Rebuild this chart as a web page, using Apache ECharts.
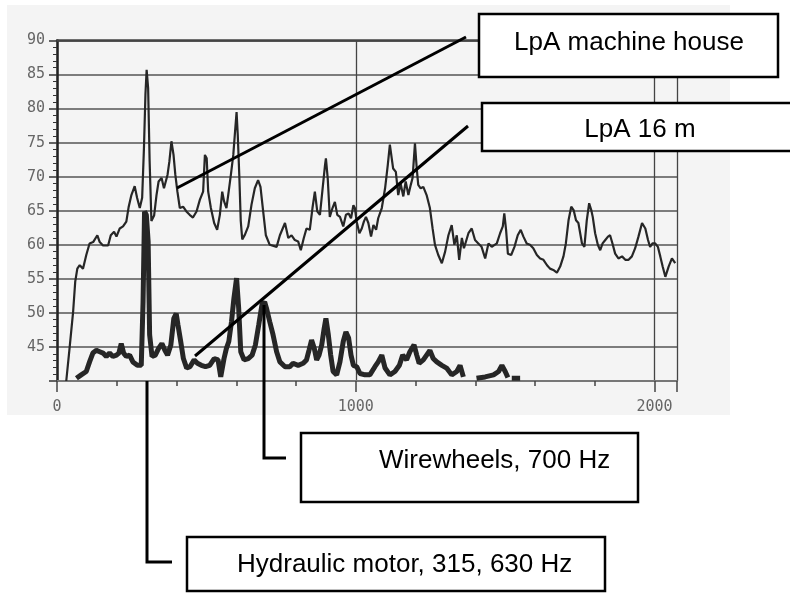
<!DOCTYPE html>
<html>
<head>
<meta charset="utf-8">
<script src="https://cdn.jsdelivr.net/npm/echarts@6/dist/echarts.min.js"></script>
<style>
  html, body { margin: 0; padding: 0; background: #fff; }
  #chart { width: 790px; height: 593px; }
</style>
</head>
<body>
<div id="chart"></div>
<script>
// [frequency Hz, level dB(A)]
const machineHouse = [
  [31, 40], [35, 40.2], [42, 44.8], [54, 50.2], [61, 54.6], [68, 56.5], [76, 57], [87, 56.5],
  [98, 58.5], [109, 60.2], [121, 60.4], [135, 61.4], [143, 60.4], [154, 59.9], [171, 59.9],
  [180, 61.4], [191, 61.9], [199, 61.2], [210, 62.4], [221, 62.7], [232, 63.4], [240, 65.6],
  [249, 67.3], [260, 68.6], [268, 66.9], [277, 65.4], [285, 66.9], [291, 74.2], [296, 82.1],
  [300, 85.7], [305, 83], [310, 72.3], [316, 63.5], [325, 64.3], [333, 67.3], [340, 69.3],
  [350, 69.8], [358, 68.3], [370, 70.3], [376, 72.2], [383, 75.2], [390, 73.2], [396, 70.3],
  [403, 67.8], [411, 65.4], [422, 65.6], [433, 64.9], [444, 64.4], [455, 64], [467, 64.9],
  [478, 66.6], [489, 67.8], [495, 73.2], [501, 72.7], [506, 67.8], [515, 65.4], [526, 63.2],
  [536, 62.2], [545, 64.4], [553, 67.8], [559, 66.4], [567, 65.4], [573, 67.3], [582, 70.3],
  [590, 73.2], [595, 76.1], [601, 79.5], [605, 76.1], [610, 70.3], [615, 63.5], [620, 60.8],
  [629, 61.5], [640, 62.7], [651, 65.9], [662, 68.3], [673, 69.5], [681, 68.5], [690, 64.9],
  [699, 61.4], [712, 60], [735, 59.7], [746, 61.4], [763, 63.2], [774, 61], [785, 61.4],
  [796, 60.7], [807, 60.5], [816, 59.2], [826, 61], [835, 62.4], [846, 62.2], [855, 65.4],
  [863, 67.8], [871, 64.9], [880, 64.4], [889, 68.3], [897, 71.7], [900, 72.7], [906, 69.8],
  [913, 64.1], [922, 65.4], [930, 66.3], [938, 64.4], [947, 64.1], [958, 62.7], [967, 64.4],
  [976, 64.6], [984, 63.9], [992, 65.8], [997, 65.4], [1003, 63.4], [1012, 61.7], [1020, 62.4],
  [1027, 63.4], [1034, 64.1], [1042, 63.2], [1051, 61.2], [1059, 62.9], [1068, 62.2],
  [1075, 63.9], [1087, 65.4], [1098, 68.3], [1107, 71.7], [1114, 74.7], [1120, 74.7],
  [1125, 71.2], [1134, 70.7], [1142, 67.3], [1150, 69], [1159, 67.1], [1167, 69.3], [1176, 67.3],
  [1184, 68.8], [1190, 69.8], [1198, 74.9], [1204, 71.2], [1209, 68.8], [1217, 68.3],
  [1226, 68.5], [1237, 67.3], [1248, 65.4], [1257, 62.4], [1265, 60], [1276, 58.5], [1288, 57.3],
  [1299, 59], [1310, 61.4], [1321, 62.9], [1330, 60], [1338, 61.4], [1346, 57.8], [1355, 61],
  [1362, 59.5], [1377, 61.7], [1388, 62.4], [1399, 60.7], [1410, 60.2], [1421, 59.7],
  [1433, 58], [1444, 60.2], [1455, 59.7], [1472, 60.2], [1483, 61.7], [1492, 62.7],
  [1497, 64.6], [1503, 62.2], [1509, 58.7], [1520, 58.5], [1531, 59.7], [1542, 61.4],
  [1552, 62.2], [1561, 61.2], [1572, 60.2], [1583, 60], [1594, 59.5], [1606, 58.5], [1617, 58],
  [1628, 57.8], [1640, 57], [1650, 56.5], [1661, 56.3], [1673, 55.9], [1684, 56.8], [1695, 58.3],
  [1703, 60.2], [1712, 63.6], [1721, 65.6], [1729, 65.1], [1737, 63.6], [1745, 63.2],
  [1757, 60.2], [1765, 59.7], [1773, 63.6], [1781, 66.1], [1788, 65.1], [1793, 64.1],
  [1801, 61.7], [1810, 60], [1818, 59.2], [1826, 60.2], [1835, 60.7], [1844, 61.2], [1851, 61.4],
  [1859, 60.2], [1868, 58.7], [1879, 58], [1891, 58.3], [1902, 57.8], [1913, 57.8], [1924, 58.3],
  [1935, 59.5], [1946, 61.2], [1958, 63.2], [1969, 62.4], [1978, 60.7], [1985, 59.7],
  [1993, 60.2], [2002, 60.2], [2011, 59.7], [2019, 58.3], [2027, 56.8], [2036, 55.3],
  [2047, 56.8], [2058, 58], [2069, 57.3]
]

const at16m = [
  [65, 40.4], [81, 40.9], [98, 41.4], [109, 42.8], [120, 44.1], [132, 44.5], [143, 44.3],
  [154, 44.1], [165, 43.6], [176, 44.1], [187, 43.6], [199, 43.8], [207, 44.1], [215, 45.5],
  [223, 44.1], [232, 43.6], [243, 43.8], [254, 42.8], [269, 42.3], [282, 42.3], [288, 51.6],
  [293, 64.9], [299, 64.4], [305, 60.5], [310, 46.8], [318, 43.6], [329, 43.8], [340, 44.8],
  [351, 45.5], [361, 44.5], [370, 43.8], [381, 45.3], [391, 49.2], [399, 49.9], [405, 48.2],
  [414, 45.8], [423, 43.3], [434, 41.9], [445, 42.1], [459, 43.1], [470, 42.6], [483, 42.3],
  [497, 42.1], [511, 42.3], [526, 43.3], [539, 43.1], [548, 40.6], [559, 43.3], [567, 44.8],
  [575, 45.8], [584, 48.7], [592, 52.1], [601, 55.1], [608, 50.7], [615, 44.3], [626, 43.1],
  [640, 43.3], [653, 43.8], [664, 45.3], [675, 48.2], [686, 51.2], [695, 51.6], [701, 50.7],
  [712, 48.7], [723, 46.8], [735, 44.3], [746, 42.8], [763, 42.1], [779, 42.1], [790, 42.6],
  [807, 42.3], [824, 42.6], [835, 43.1], [844, 44.6], [852, 46], [861, 44.8], [869, 43.1],
  [877, 43.8], [886, 45.3], [894, 47.7], [900, 49.2], [908, 46.8], [916, 43.8], [924, 41.4],
  [936, 40.9], [947, 42.8], [958, 45.8], [967, 47.2], [976, 46.3], [984, 43.8], [992, 42.3],
  [1003, 42.1], [1014, 41.1], [1031, 40.9], [1047, 40.9], [1064, 42.1], [1075, 42.8],
  [1087, 43.8], [1098, 41.9], [1114, 40.9], [1131, 41.4], [1146, 42.3], [1157, 43.8],
  [1170, 43.1], [1181, 44.3], [1195, 45.3], [1204, 43.8], [1212, 42.6], [1226, 43.1],
  [1237, 43.8], [1248, 44.5], [1259, 43.3], [1271, 42.8], [1288, 42.3], [1304, 41.9],
  [1321, 40.9], [1338, 41.4], [1349, 42.3], [1360, 40.6], [1380, null],
  [1404, 40.4], [1433, 40.6], [1461, 40.9], [1478, 41.4], [1489, 42.3], [1500, 41.4],
  [1509, 40.5], [1516, null], [1522, 40.4], [1550, 40.4]
]

const yTicks = [45, 50, 55, 60, 65, 70, 75, 80, 85, 90]
const xTicks = [0, 1000, 2000]

const chart = echarts.init(document.getElementById('chart'))

const boxText = {
  fontFamily: 'Liberation Sans, Arial, sans-serif',
  fontSize: 26,
  fill: '#000'
}

const option = {
  animation: false,
  backgroundColor: '#fff',
  grid: { left: 57, right: 113, top: 40.5, bottom: 212 },
  xAxis: [
    {
      type: 'value',
      min: 0,
      max: 2075,
      interval: 1000,
      axisLine: { lineStyle: { color: '#777', width: 2 } },
      axisTick: { length: 11, lineStyle: { color: '#444', width: 1.5 } },
      minorTick: { show: true, splitNumber: 5, length: 5, lineStyle: { color: '#444', width: 1.5 } },
      axisLabel: {
        margin: 19,
        color: '#666',
        fontFamily: 'DejaVu Sans Mono',
        fontSize: 15,
        formatter: v => (xTicks.includes(v) ? String(v) : '')
      },
      splitLine: { show: true, lineStyle: { color: '#444', width: 1.3 } }
    },
    {
      type: 'value',
      position: 'top',
      min: 0,
      max: 2075,
      axisLine: { show: true, lineStyle: { color: '#444', width: 2.5 } },
      axisTick: { show: false },
      axisLabel: { show: false },
      splitLine: { show: false }
    }
  ],
  yAxis: {
    type: 'value',
    min: 40,
    max: 90,
    interval: 5,
    axisLine: { show: true, lineStyle: { color: '#222', width: 2.5 } },
    axisTick: { show: true, length: 8, lineStyle: { color: '#333', width: 1.5 } },
    minorTick: { show: true, splitNumber: 5, length: 4, lineStyle: { color: '#333', width: 1 } },
    axisLabel: {
      margin: 12,
      color: '#666',
      fontFamily: 'DejaVu Sans Mono',
      fontSize: 15,
      formatter: v => (yTicks.includes(v) ? String(v) : '')
    },
    splitLine: { lineStyle: { color: '#555', width: 1.5 } }
  },
  series: [
    {
      name: 'LpA machine house',
      type: 'line',
      data: machineHouse,
      symbol: 'none',
      clip: true,
      lineStyle: { color: '#262626', width: 2.2 },
      z: 3
    },
    {
      name: 'LpA 16 m',
      type: 'line',
      data: at16m,
      symbol: 'none',
      clip: true,
      connectNulls: false,
      lineStyle: { color: '#262626', width: 5 },
      z: 3
    }
  ],
  graphic: [
    // grey photo background behind the plot
    { type: 'rect', z: -10, silent: true, shape: { x: 7, y: 5, width: 723, height: 410 }, style: { fill: '#f4f4f4' } },
    // pointer lines
    { type: 'line', z: 50, shape: { x1: 177, y1: 188, x2: 466, y2: 37 }, style: { stroke: '#000', lineWidth: 3 } },
    { type: 'line', z: 50, shape: { x1: 195, y1: 356, x2: 468, y2: 126 }, style: { stroke: '#000', lineWidth: 3 } },
    { type: 'polyline', z: 50, shape: { points: [[264, 305], [264, 458], [286, 458]] }, style: { stroke: '#000', lineWidth: 3, fill: null } },
    { type: 'polyline', z: 50, shape: { points: [[147, 381], [147, 562], [172, 562]] }, style: { stroke: '#000', lineWidth: 3, fill: null } },
    // label boxes
    { type: 'rect', z: 60, shape: { x: 479, y: 14, width: 299, height: 63 }, style: { fill: '#fff', stroke: '#000', lineWidth: 2.5 } },
    { type: 'text', z: 61, x: 629, y: 43, style: Object.assign({ text: 'LpA machine house', align: 'center', verticalAlign: 'middle' }, boxText) },
    { type: 'rect', z: 60, shape: { x: 482, y: 103, width: 312, height: 48 }, style: { fill: '#fff', stroke: '#000', lineWidth: 2.5 } },
    { type: 'text', z: 61, x: 640, y: 130, style: Object.assign({ text: 'LpA 16 m', align: 'center', verticalAlign: 'middle' }, boxText) },
    { type: 'rect', z: 60, shape: { x: 301, y: 433, width: 337, height: 69 }, style: { fill: '#fff', stroke: '#000', lineWidth: 2.5 } },
    { type: 'text', z: 61, x: 379, y: 461, style: Object.assign({ text: 'Wirewheels, 700 Hz', align: 'left', verticalAlign: 'middle' }, boxText) },
    { type: 'rect', z: 60, shape: { x: 187, y: 537, width: 418, height: 54 }, style: { fill: '#fff', stroke: '#000', lineWidth: 2.5 } },
    { type: 'text', z: 61, x: 237, y: 565, style: Object.assign({ text: 'Hydraulic motor, 315, 630 Hz', align: 'left', verticalAlign: 'middle' }, boxText) }
  ]
}

chart.setOption(option)
</script>
</body>
</html>
